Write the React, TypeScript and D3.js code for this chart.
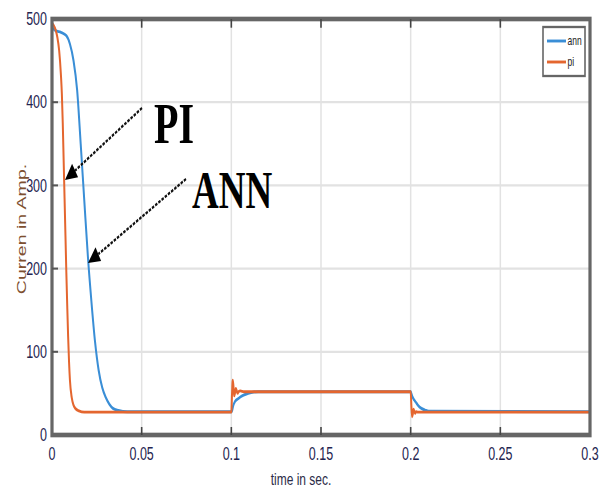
import React from "react";
import * as d3 from "d3";

// ---- data ----
const xTicks = [0, 0.05, 0.1, 0.15, 0.2, 0.25, 0.3];
const xTickLabels = ["0", "0.05", "0.1", "0.15", "0.2", "0.25", "0.3"];
const yTicks = [0, 100, 200, 300, 400, 500];
const yTickLabels = ["0", "100", "200", "300", "400", "500"];

const annTime = [0, 0.002, 0.005, 0.008, 0.01, 0.012, 0.014, 0.016, 0.018, 0.02, 0.022, 0.024, 0.026, 0.028, 0.03, 0.032, 0.034, 0.037, 0.042, 0.1, 0.1005, 0.101, 0.102, 0.104, 0.106, 0.108, 0.111, 0.115, 0.2, 0.2005, 0.201, 0.202, 0.203, 0.204, 0.206, 0.208, 0.21, 0.3];
const annValues = [490, 486, 484, 480, 470, 450, 415, 350, 282, 215, 160, 112, 78, 57, 45, 37, 32, 29.5, 28, 28, 30, 35, 40, 44, 47, 49, 51, 52, 52, 49, 46, 42, 39, 36, 32, 30, 28.5, 28];

const piTime = [0, 0.001, 0.002, 0.003, 0.004, 0.005, 0.0055, 0.006, 0.0065, 0.007, 0.0075, 0.008, 0.0085, 0.009, 0.0095, 0.01, 0.011, 0.012, 0.013, 0.015, 0.018, 0.1, 0.1004, 0.1008, 0.1012, 0.1016, 0.102, 0.1025, 0.103, 0.1035, 0.104, 0.105, 0.107, 0.2, 0.2004, 0.2008, 0.2012, 0.2016, 0.202, 0.2025, 0.203, 0.204, 0.3];
const piValues = [495, 492, 487, 478, 462, 432, 410, 375, 330, 285, 240, 195, 155, 118, 88, 66, 45, 36, 32, 29, 27.5, 27.5, 50, 66, 58, 47, 50, 56, 53, 50, 52, 53, 52, 52, 35, 22, 25, 31, 29, 26, 28, 27.5, 27.5];

const seriesNames = ["ann", "pi"];
const seriesColors = ["#3a8ed6", "#e4662f"];

// ---- layout (the reference is vertically stretched) ----
const W = 605;
const H = 491;
const SY = 1.45;
const VH = H / SY;

export default function App() {
  const x = d3.scaleLinear().domain([0, 0.3]).range([52, 590]);
  const y = d3.scaleLinear().domain([0, 500]).range([435 / SY, 19 / SY]);
  const line = d3
    .line<[number, number]>()
    .x((d) => x(d[0]))
    .y((d) => y(d[1]))
    .curve(d3.curveMonotoneX);

  const annData: [number, number][] = annTime.map((t, i) => [t, annValues[i]]);
  const piData: [number, number][] = piTime.map((t, i) => [t, piValues[i]]);

  const x0 = x(0), x1 = x(0.3), yb = y(0), yt = y(500);

  const arrow = (sx: number, sy: number, tx: number, ty: number) => {
    const dx = tx - sx, dy = ty - sy;
    const len = Math.hypot(dx, dy);
    const ux = dx / len, uy = dy / len;
    const L = 12, Wd = 5.5;
    const bx = tx - ux * L, by = ty - uy * L;
    const px = -uy, py = ux;
    return (
      <g>
        <line x1={sx} y1={sy} x2={bx} y2={by} stroke="#111" strokeWidth={1.8} strokeDasharray="2.5,1.2" />
        <path d={`M${tx},${ty}L${bx + px * Wd},${by + py * Wd}L${bx - px * Wd},${by - py * Wd}Z`} fill="#000" />
      </g>
    );
  };

  return (
    <svg
      width={W}
      height={H}
      viewBox={`0 0 ${W} ${VH}`}
      preserveAspectRatio="none"
      style={{ position: "absolute", left: 0, top: 0, background: "#fff" }}
    >
      <rect x={0} y={0} width={W} height={VH} fill="#fff" />
      {/* grid */}
      {xTicks.slice(1, -1).map((t) => (
        <line key={"gx" + t} x1={x(t)} x2={x(t)} y1={yt} y2={yb} stroke="#e2e2e2" strokeWidth={1.5} />
      ))}
      {yTicks.slice(1, -1).map((v) => (
        <line key={"gy" + v} x1={x0} x2={x1} y1={y(v)} y2={y(v)} stroke="#e2e2e2" strokeWidth={1.5} />
      ))}
      {/* series */}
      <path d={line(annData) || ""} fill="none" stroke={seriesColors[0]} strokeWidth={2} />
      <path d={line(piData) || ""} fill="none" stroke={seriesColors[1]} strokeWidth={2} />
      {/* frame */}
      <rect x={x0} y={yt} width={x1 - x0} height={yb - yt} fill="none" stroke="#666" strokeWidth={3.2} />
      {/* ticks */}
      {xTicks.slice(1, -1).map((t) => (
        <g key={"tx" + t}>
          <line x1={x(t)} x2={x(t)} y1={yb} y2={yb - 5.5} stroke="#444" strokeWidth={1.6} />
          <line x1={x(t)} x2={x(t)} y1={yt} y2={yt + 6} stroke="#444" strokeWidth={1.6} />
        </g>
      ))}
      {yTicks.slice(1, -1).map((v) => (
        <line key={"ty" + v} x1={x0} x2={x0 + 6} y1={y(v)} y2={y(v)} stroke="#555" strokeWidth={1.4} />
      ))}
      {/* tick labels */}
      {xTicks.map((t, i) => (
        <text key={"lx" + t} x={x(t)} y={460 / SY} textAnchor="middle" fontFamily="Liberation Sans, Arial, sans-serif" fontSize={12.5} fill="#24244f">
          {xTickLabels[i]}
        </text>
      ))}
      {yTicks.map((v, i) => (
        <text key={"ly" + v} x={47} y={y(v) + 4.3} textAnchor="end" fontFamily="Liberation Sans, Arial, sans-serif" fontSize={12.5} fill="#24244f">
          {yTickLabels[i]}
        </text>
      ))}
      {/* axis titles */}
      <text x={301} y={485 / SY} textAnchor="middle" fontFamily="Liberation Sans, Arial, sans-serif" fontSize={12} fill="#2c2c48">
        time in sec.
      </text>
      <text transform={`translate(25.5, ${229 / SY}) rotate(-90)`} textAnchor="middle" fontFamily="Liberation Sans, Arial, sans-serif" fontSize={13.5} fill="#7d4f30">
        Curren in Amp.
      </text>
      {/* legend */}
      <rect x={543} y={27 / SY} width={42} height={(76 - 27) / SY} fill="#fff" stroke="#666" strokeWidth={1.6} />
      {seriesNames.map((n, i) => (
        <g key={n}>
          <line x1={547} x2={566} y1={(41 + i * 21) / SY} y2={(41 + i * 21) / SY} stroke={seriesColors[i]} strokeWidth={2} />
          <text x={567.5} y={(41 + i * 21) / SY + 3} fontFamily="Liberation Sans, Arial, sans-serif" fontSize={8.5} fill="#222">
            {n}
          </text>
        </g>
      ))}
      {/* annotations */}
      {arrow(142, 108 / SY, 65, 180 / SY)}
      {arrow(186, 179 / SY, 88, 263 / SY)}
      <text x={154} y={143 / SY} fontFamily="Liberation Serif, Times New Roman, serif" fontWeight="bold" fontSize={40} fill="#000">
        PI
      </text>
      <text x={192} y={208 / SY} fontFamily="Liberation Serif, Times New Roman, serif" fontWeight="bold" fontSize={37} fill="#000">
        ANN
      </text>
    </svg>
  );
}
